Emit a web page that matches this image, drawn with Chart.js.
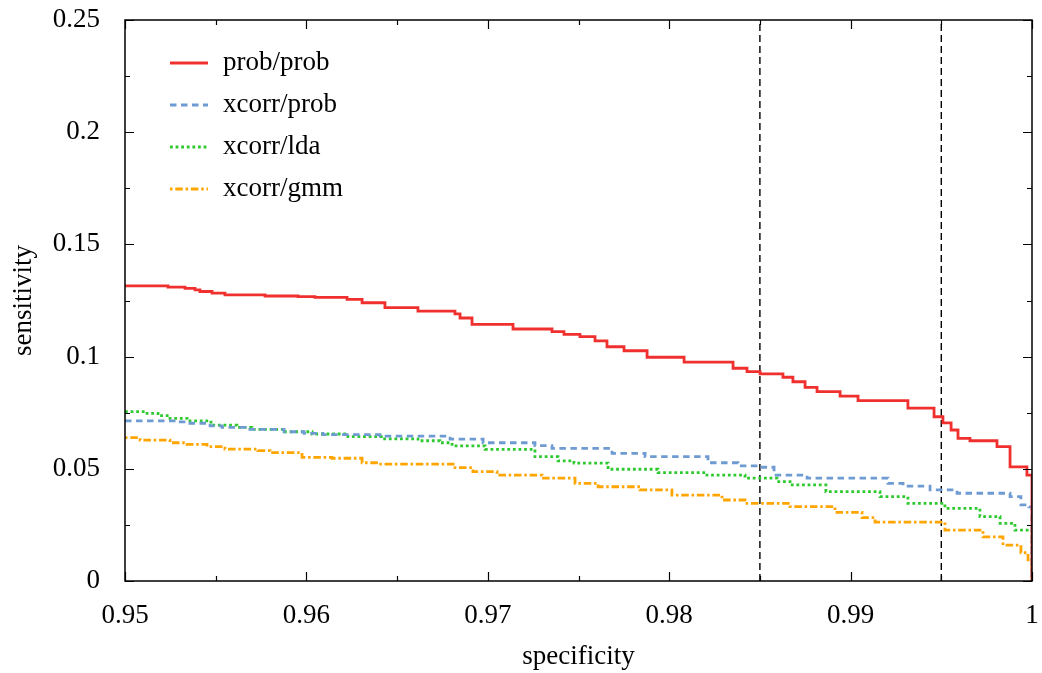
<!DOCTYPE html>
<html>
<head>
<meta charset="utf-8">
<script src="https://cdn.jsdelivr.net/npm/chart.js@4.4.0/dist/chart.umd.min.js"></script>
<style>
  html, body { margin: 0; padding: 0; background: #fff; }
</style>
</head>
<body>
<canvas id="roc" width="1042" height="673"></canvas>
<script>
// specificity / sensitivity pairs
const probProbX = [0.95, 0.95237, 0.95331, 0.95386, 0.95413, 0.9548, 0.95551, 0.95772, 0.95954, 0.96047, 0.96224, 0.96307, 0.96433, 0.96615, 0.96819, 0.96847, 0.96913, 0.97139, 0.97354, 0.9742, 0.97508, 0.97591, 0.97657, 0.97751, 0.97878, 0.98082, 0.98352, 0.98429, 0.98501, 0.98627, 0.98682, 0.98749, 0.98815, 0.98942, 0.99041, 0.99316, 0.9946, 0.99509, 0.99554, 0.99592, 0.99658, 0.99807, 0.99879, 0.99972, 1.0];
const probProbY = [0.1315, 0.131, 0.1304, 0.1297, 0.129, 0.1283, 0.1275, 0.127, 0.1267, 0.1264, 0.1255, 0.124, 0.1218, 0.1203, 0.119, 0.1172, 0.1144, 0.1123, 0.1111, 0.1099, 0.1089, 0.107, 0.1044, 0.1026, 0.0997, 0.0975, 0.0948, 0.0933, 0.0923, 0.0908, 0.0888, 0.0863, 0.0844, 0.0824, 0.0804, 0.077, 0.0732, 0.0705, 0.0673, 0.0636, 0.0625, 0.0599, 0.0509, 0.0472, 0];

const xcorrProbX = [0.95, 0.95287, 0.95342, 0.95469, 0.95535, 0.95662, 0.95877, 0.95987, 0.96091, 0.96406, 0.96792, 0.96974, 0.9726, 0.97354, 0.97685, 0.97867, 0.98214, 0.98379, 0.98501, 0.98578, 0.9876, 0.99206, 0.99289, 0.99438, 0.99587, 0.99879, 0.99939, 0.99983, 1.0];
const xcorrProbY = [0.0714, 0.0709, 0.0703, 0.0691, 0.0685, 0.0676, 0.0665, 0.0658, 0.0652, 0.0646, 0.0632, 0.0616, 0.0603, 0.0591, 0.0569, 0.0554, 0.0527, 0.0513, 0.0507, 0.0472, 0.0458, 0.0435, 0.0423, 0.0406, 0.0391, 0.0376, 0.0339, 0.033, 0];

const xcorrLdaX = [0.95, 0.9511, 0.95182, 0.95248, 0.95342, 0.95474, 0.95617, 0.957, 0.95882, 0.96031, 0.96229, 0.96422, 0.96615, 0.96736, 0.96803, 0.96985, 0.9726, 0.97387, 0.97475, 0.97663, 0.97938, 0.98208, 0.98418, 0.98594, 0.98666, 0.98864, 0.99162, 0.99316, 0.9952, 0.99713, 0.99824, 0.99906, 1.0];
const xcorrLdaY = [0.0755, 0.0747, 0.0737, 0.0725, 0.0714, 0.0695, 0.0685, 0.0676, 0.0665, 0.0655, 0.0643, 0.0633, 0.0625, 0.0616, 0.0602, 0.0587, 0.0554, 0.0535, 0.0525, 0.0498, 0.0483, 0.0472, 0.0458, 0.0443, 0.0428, 0.0398, 0.0376, 0.0346, 0.0324, 0.0287, 0.0257, 0.0227, 0];

const xcorrGmmX = [0.95, 0.95083, 0.95248, 0.95342, 0.95452, 0.95551, 0.95733, 0.95799, 0.95976, 0.96141, 0.96307, 0.96395, 0.96819, 0.96918, 0.97051, 0.97299, 0.97481, 0.97608, 0.97839, 0.98015, 0.98291, 0.98418, 0.98666, 0.98914, 0.99063, 0.99135, 0.9952, 0.9973, 0.9984, 0.99939, 0.99978, 1.0];
const xcorrGmmY = [0.0639, 0.0628, 0.0616, 0.0609, 0.0599, 0.0588, 0.0581, 0.0572, 0.0551, 0.0547, 0.0527, 0.0521, 0.0505, 0.0487, 0.0472, 0.0458, 0.0435, 0.042, 0.0406, 0.0383, 0.0361, 0.0346, 0.0331, 0.0306, 0.0282, 0.0262, 0.0227, 0.0197, 0.016, 0.0126, 0.0094, 0];

// vertical reference lines (specificity thresholds)
const refLinesX = [0.985, 0.995];

const seriesLabels = ["prob/prob", "xcorr/prob", "xcorr/lda", "xcorr/gmm"];

const FONT = "'Liberation Serif', 'Times New Roman', serif";
const FONT_SIZE = 27;

function toPoints(xs, ys) {
    return xs.map((x, i) => ({ x: x, y: ys[i] }));
}

function curve(label, xs, ys, color, dash) {
    return {
        label: label,
        data: toPoints(xs, ys),
        borderColor: color,
        backgroundColor: color,
        borderWidth: 2.8,
        borderDash: dash,
        borderCapStyle: "butt",
        stepped: true,
        pointRadius: 0,
        fill: false
    };
}

const datasets = [
    curve(seriesLabels[0], probProbX, probProbY, "#f0302f", []),
    curve(seriesLabels[1], xcorrProbX, xcorrProbY, "#6f9bd3", [6.5, 4.5]),
    curve(seriesLabels[2], xcorrLdaX, xcorrLdaY, "#2ec92e", [2.8, 2.8]),
    curve(seriesLabels[3], xcorrGmmX, xcorrGmmY, "#ffa500", [2.5, 2.8, 7.5, 2.8])
];

refLinesX.forEach(v => {
    datasets.push({
        label: "",
        data: [{ x: v, y: 0 }, { x: v, y: 0.25 }],
        borderColor: "#000",
        borderWidth: 1.4,
        borderDash: [7, 4],
        pointRadius: 0,
        fill: false
    });
});

// gnuplot-like frame with inward major/minor ticks on every side
const framePlugin = {
    id: "frameTicks",
    afterDatasetsDraw(chart) {
        const { ctx, chartArea: a, scales } = chart;
        const xs = scales.x, ys = scales.y;
        ctx.save();
        ctx.setLineDash([]);
        ctx.strokeStyle = "#000";
        ctx.lineWidth = 1.5;
        ctx.strokeRect(a.left, a.top, a.right - a.left, a.bottom - a.top);

        const major = 9, minor = 5;
        ctx.lineWidth = 1.2;
        ctx.beginPath();
        const xv = xs.ticks.map(t => t.value);
        xv.forEach((v, i) => {
            const px = Math.round(xs.getPixelForValue(v)) + 0.5;
            ctx.moveTo(px, a.bottom); ctx.lineTo(px, a.bottom - major);
            ctx.moveTo(px, a.top); ctx.lineTo(px, a.top + major);
            if (i < xv.length - 1) {
                const mx = Math.round(xs.getPixelForValue((v + xv[i + 1]) / 2)) + 0.5;
                ctx.moveTo(mx, a.bottom); ctx.lineTo(mx, a.bottom - minor);
                ctx.moveTo(mx, a.top); ctx.lineTo(mx, a.top + minor);
            }
        });
        const yv = ys.ticks.map(t => t.value);
        yv.forEach((v, i) => {
            const py = Math.round(ys.getPixelForValue(v)) + 0.5;
            ctx.moveTo(a.left, py); ctx.lineTo(a.left + major, py);
            ctx.moveTo(a.right, py); ctx.lineTo(a.right - major, py);
            if (i < yv.length - 1) {
                const my = Math.round(ys.getPixelForValue((v + yv[i + 1]) / 2)) + 0.5;
                ctx.moveTo(a.left, my); ctx.lineTo(a.left + minor, my);
                ctx.moveTo(a.right, my); ctx.lineTo(a.right - minor, my);
            }
        });
        ctx.stroke();
        ctx.restore();
    }
};

// legend inside the plot, top left
const legendPlugin = {
    id: "insideLegend",
    afterDraw(chart) {
        const { ctx, chartArea: a } = chart;
        ctx.save();
        ctx.font = FONT_SIZE + "px " + FONT;
        ctx.textBaseline = "middle";
        ctx.textAlign = "left";
        chart.data.datasets.forEach((ds, i) => {
            if (!ds.label) return;
            const y = a.top + 43 + i * 42;
            ctx.strokeStyle = ds.borderColor;
            ctx.lineWidth = ds.borderWidth;
            ctx.setLineDash(ds.borderDash || []);
            ctx.beginPath();
            ctx.moveTo(a.left + 45, y);
            ctx.lineTo(a.left + 83, y);
            ctx.stroke();
            ctx.fillStyle = "#000";
            ctx.fillText(ds.label, a.left + 98, y);
        });
        ctx.restore();
    }
};

function fmt(v) {
    return String(Number(v.toFixed(3)));
}

new Chart(document.getElementById("roc"), {
    type: "line",
    data: { datasets: datasets },
    options: {
        responsive: false,
        animation: false,
        layout: { padding: { top: 20, right: 10, left: 0, bottom: 0 } },
        plugins: {
            legend: { display: false },
            tooltip: { enabled: false }
        },
        scales: {
            x: {
                type: "linear",
                min: 0.95,
                max: 1,
                grid: { display: false, drawTicks: false },
                border: { display: false },
                ticks: {
                    stepSize: 0.01,
                    color: "#000",
                    padding: 19,
                    font: { family: FONT, size: FONT_SIZE },
                    callback: v => fmt(v)
                },
                title: {
                    display: true,
                    text: "specificity",
                    color: "#000",
                    font: { family: FONT, size: FONT_SIZE },
                    padding: { top: 0, bottom: 0 }
                },
                afterFit: s => {
                    s.height = 92;
                    s.paddingLeft = 0;
                    s.paddingRight = 0;
                }
            },
            y: {
                type: "linear",
                min: 0,
                max: 0.25,
                grid: { display: false, drawTicks: false },
                border: { display: false },
                ticks: {
                    stepSize: 0.05,
                    color: "#000",
                    padding: 25,
                    font: { family: FONT, size: FONT_SIZE },
                    callback: v => fmt(v)
                },
                title: {
                    display: true,
                    text: "sensitivity",
                    color: "#000",
                    font: { family: FONT, size: FONT_SIZE },
                    padding: { top: 8, bottom: 0 }
                },
                afterFit: s => {
                    s.width = 125;
                    s.paddingTop = 0;
                    s.paddingBottom = 0;
                }
            }
        }
    },
    plugins: [framePlugin, legendPlugin]
});
</script>
</body>
</html>
